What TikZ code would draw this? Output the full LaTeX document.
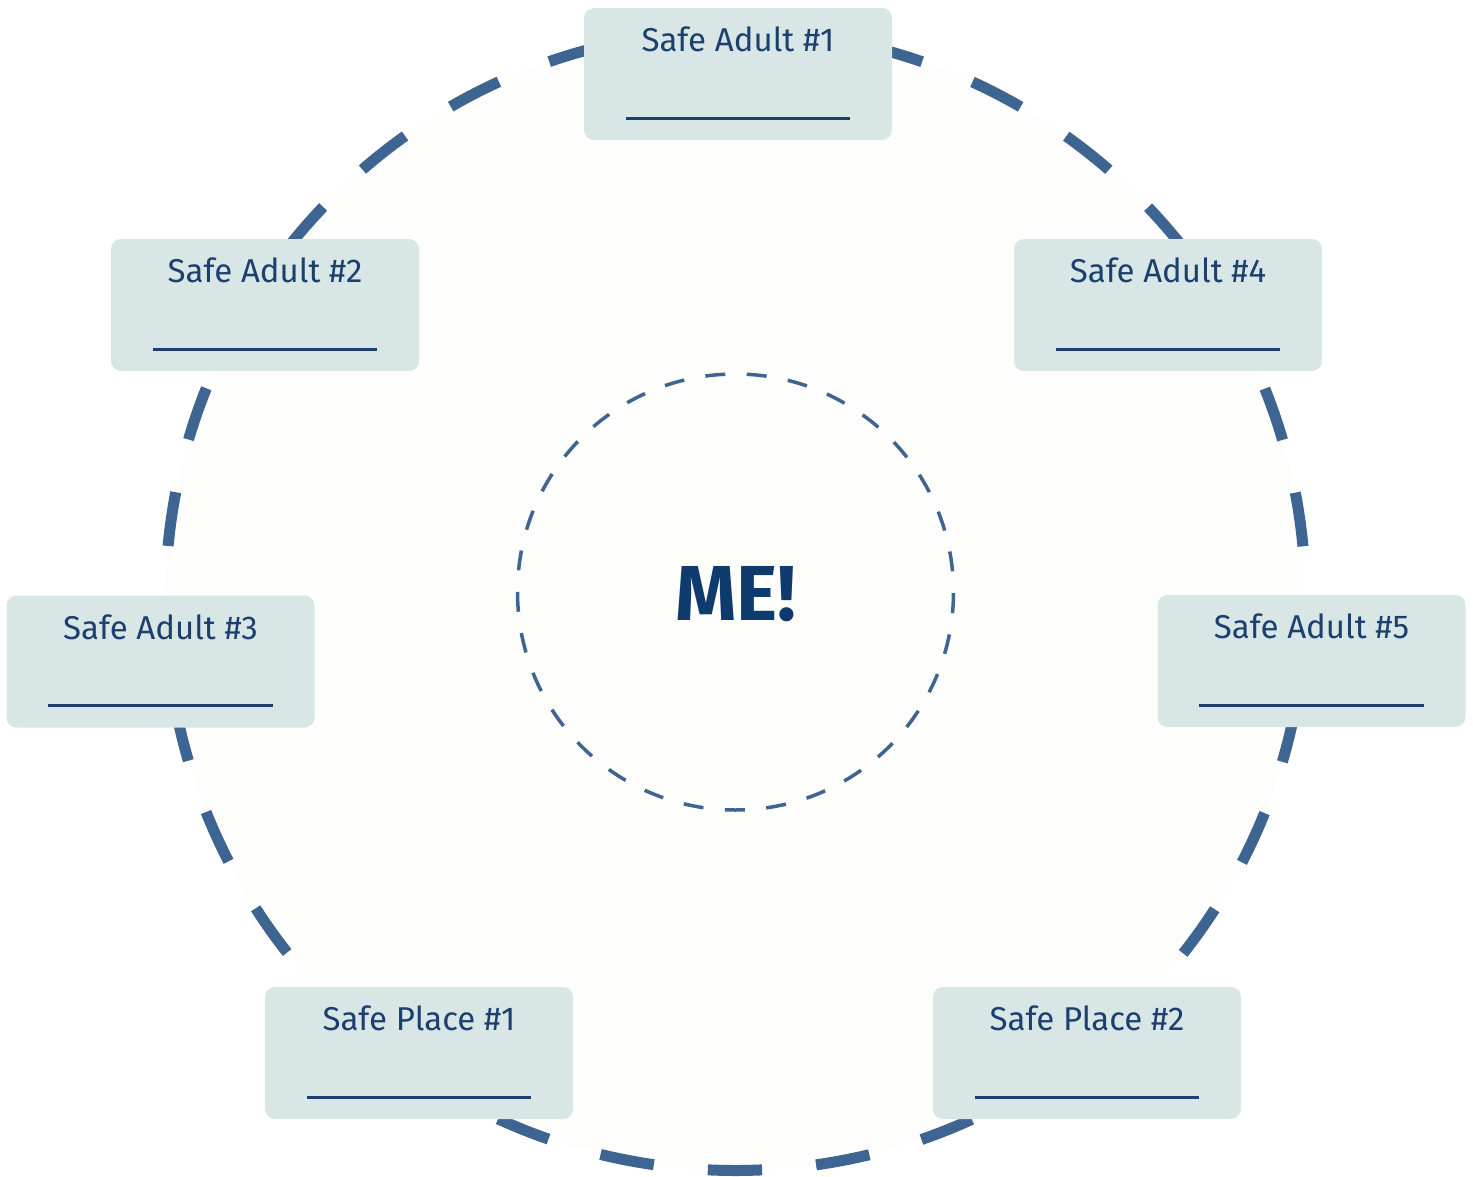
\documentclass[tikz,border=0pt]{standalone}
\usepackage{fontspec}
\setmainfont{Fira Sans}
\definecolor{ringblue}{HTML}{3E6591}
\definecolor{inkblue}{HTML}{1B3F6F}
\definecolor{meblue}{HTML}{0F3A6E}
\definecolor{slotfill}{HTML}{D8E6E5}
\definecolor{discfill}{HTML}{FDFDFB}
\begin{document}
\begin{tikzpicture}[x=0.5pt, y=-0.5pt,
    slot/.style={fill=slotfill, rounded corners=5pt, minimum width=154pt, minimum height=66pt, inner sep=0pt},
    slottext/.style={anchor=base, text=inkblue, font=\fontsize{16.5}{20}\selectfont},
    blank/.style={draw=inkblue, line width=1.5pt}]
    \useasboundingbox (0,0) rectangle (1473,1177);

    % outer ring
    \draw[fill=discfill, draw=ringblue, line width=5.5pt, dash pattern=on 27.13pt off 27.13pt, dash phase=27.13pt] (735.5,600.5) circle[radius=285pt];

    % inner ring
    \draw[draw=ringblue, line width=1.75pt, dash pattern=on 10pt off 10.75pt, dash phase=10.38pt] (735.5,592) circle[radius=109pt];
    \node[anchor=base, text=meblue, font=\fontsize{39}{42}\selectfont\bfseries] (me) at (736,620) {ME!};

    % Safe Adult #1
    \node[slot] (adult1) at (738,74) {};
    \node[slottext] (adult1-t) at ([yshift=-22pt]adult1.north) {Safe Adult \#1};
    \draw[blank] ([xshift=21pt, yshift=11pt]adult1.south west) -- ([xshift=-21pt, yshift=11pt]adult1.south east);

    % Safe Adult #2
    \node[slot] (adult2) at (265,305) {};
    \node[slottext] (adult2-t) at ([yshift=-22pt]adult2.north) {Safe Adult \#2};
    \draw[blank] ([xshift=21pt, yshift=11pt]adult2.south west) -- ([xshift=-21pt, yshift=11pt]adult2.south east);

    % Safe Adult #3
    \node[slot] (adult3) at (160.5,661.5) {};
    \node[slottext] (adult3-t) at ([yshift=-22pt]adult3.north) {Safe Adult \#3};
    \draw[blank] ([xshift=21pt, yshift=11pt]adult3.south west) -- ([xshift=-21pt, yshift=11pt]adult3.south east);

    % Safe Adult #4
    \node[slot] (adult4) at (1168,305) {};
    \node[slottext] (adult4-t) at ([yshift=-22pt]adult4.north) {Safe Adult \#4};
    \draw[blank] ([xshift=21pt, yshift=11pt]adult4.south west) -- ([xshift=-21pt, yshift=11pt]adult4.south east);

    % Safe Adult #5
    \node[slot] (adult5) at (1311.5,661) {};
    \node[slottext] (adult5-t) at ([yshift=-22pt]adult5.north) {Safe Adult \#5};
    \draw[blank] ([xshift=21pt, yshift=11pt]adult5.south west) -- ([xshift=-21pt, yshift=11pt]adult5.south east);

    % Safe Place #1
    \node[slot] (place1) at (419,1053) {};
    \node[slottext] (place1-t) at ([yshift=-22pt]place1.north) {Safe Place \#1};
    \draw[blank] ([xshift=21pt, yshift=11pt]place1.south west) -- ([xshift=-21pt, yshift=11pt]place1.south east);

    % Safe Place #2
    \node[slot] (place2) at (1087,1053) {};
    \node[slottext] (place2-t) at ([yshift=-22pt]place2.north) {Safe Place \#2};
    \draw[blank] ([xshift=21pt, yshift=11pt]place2.south west) -- ([xshift=-21pt, yshift=11pt]place2.south east);
\end{tikzpicture}
\end{document}
